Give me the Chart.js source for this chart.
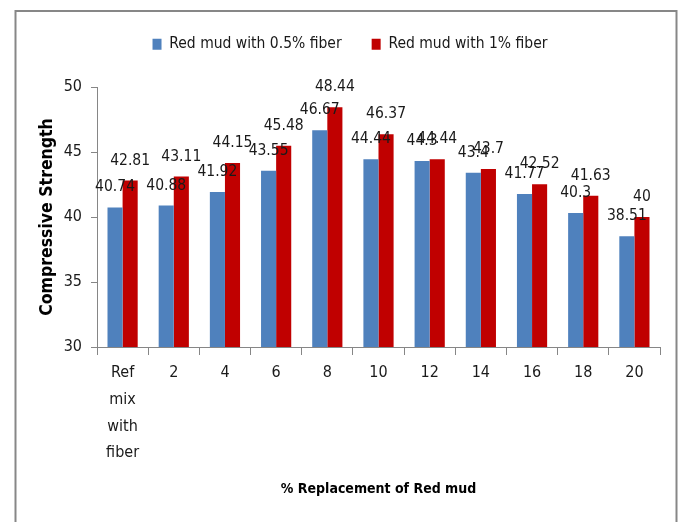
<!DOCTYPE html>
<html>
<head>
<meta charset="utf-8">
<script src="https://cdn.jsdelivr.net/npm/chart.js@4/dist/chart.umd.min.js"></script>
<style>
  html, body { margin: 0; padding: 0; background: #fff; }
  #wrap { width: 680px; height: 522px; }
</style>
</head>
<body>
<div id="wrap"><canvas id="myChart" width="680" height="522"></canvas></div>
<script>
var categories = [["Ref", "mix", "with", "fiber"], "2", "4", "6", "8", "10", "12", "14", "16", "18", "20"];
var fiberHalf = [40.74, 40.88, 41.92, 43.55, 46.67, 44.44, 44.3, 43.4, 41.77, 40.3, 38.51];
var fiberOne = [42.81, 43.11, 44.15, 45.48, 48.44, 46.37, 44.44, 43.7, 42.52, 41.63, 40];
var yTicks = [30, 35, 40, 45, 50];

var FONT = "'DejaVu Sans Condensed', 'DejaVu Sans', sans-serif";

// outer frame around the chart
var framePlugin = {
    id: 'frame',
    beforeDraw: function(chart) {
        var c = chart.ctx;
        c.save();
        c.strokeStyle = '#878787';
        c.lineWidth = 2;
        c.strokeRect(15.5, 11, 661, 530);
        c.restore();
    },
    afterLayout: function(chart) {
        // move legend to where the original has it
        chart.legend.left += 10;
        chart.legend.right += 10;
        chart.legend.top -= 25;
        chart.legend.bottom -= 25;
    }
};

// value labels above each bar
var labelPlugin = {
    id: 'valueLabels',
    afterDatasetsDraw: function(chart) {
        var c = chart.ctx;
        c.save();
        c.font = '15.5px ' + FONT;
        c.fillStyle = '#1a1a1a';
        c.textAlign = 'center';
        c.textBaseline = 'middle';
        chart.data.datasets.forEach(function(ds, i) {
            chart.getDatasetMeta(i).data.forEach(function(bar, j) {
                c.fillText(String(ds.data[j]), bar.x, bar.y - 20);
            });
        });
        c.restore();
    }
};

var ctx = document.getElementById('myChart').getContext('2d');
var chart = new Chart(ctx, {
    type: 'bar',
    data: {
        labels: categories,
        datasets: [
            {
                label: "Red mud with 0.5% fiber",
                backgroundColor: "#4F81BD",
                borderWidth: 0,
                data: fiberHalf
            },
            {
                label: "Red mud with 1% fiber",
                backgroundColor: "#C00000",
                borderWidth: 0,
                data: fiberOne
            }
        ]
    },
    options: {
        responsive: false,
        animation: false,
        events: [],
        layout: { padding: { left: 20, right: 20, top: 31.5, bottom: 20 } },
        datasets: { bar: { categoryPercentage: 0.59, barPercentage: 1.0 } },
        plugins: {
            tooltip: { enabled: false },
            legend: {
                position: 'top',
                labels: {
                    font: { family: FONT, size: 15.5 },
                    color: '#1a1a1a',
                    boxWidth: 9,
                    boxHeight: 11,
                    padding: 30
                }
            }
        },
        scales: {
            x: {
                grid: { display: true, drawOnChartArea: false, offset: true, color: '#868686', tickLength: 8 },
                border: { color: '#868686' },
                ticks: {
                    font: { family: FONT, size: 16, lineHeight: 1.66 },
                    color: '#1a1a1a',
                    maxRotation: 0,
                    autoSkip: false,
                    padding: 5
                },
                title: {
                    display: true,
                    text: '% Replacement of Red mud',
                    font: { family: FONT, size: 14, weight: 'bold' },
                    color: '#000',
                    padding: { top: 0, bottom: 4 }
                },
                afterFit: function(s) { s.height = 155; }
            },
            y: {
                min: 30,
                max: 50,
                grid: { display: true, drawOnChartArea: false, color: '#868686', tickLength: 6 },
                border: { color: '#868686' },
                afterBuildTicks: function(s) { s.ticks = yTicks.map(function(v) { return { value: v }; }); },
                ticks: {
                    font: { family: FONT, size: 16 },
                    color: '#1a1a1a',
                    padding: 9
                },
                title: {
                    display: true,
                    text: 'Compressive Strength',
                    font: { family: FONT, size: 17.5, weight: 'bold' },
                    color: '#000',
                    padding: { top: 17, bottom: 0 }
                },
                afterFit: function(s) { s.width = 77; }
            }
        }
    },
    plugins: [framePlugin, labelPlugin]
});
</script>
</body>
</html>
